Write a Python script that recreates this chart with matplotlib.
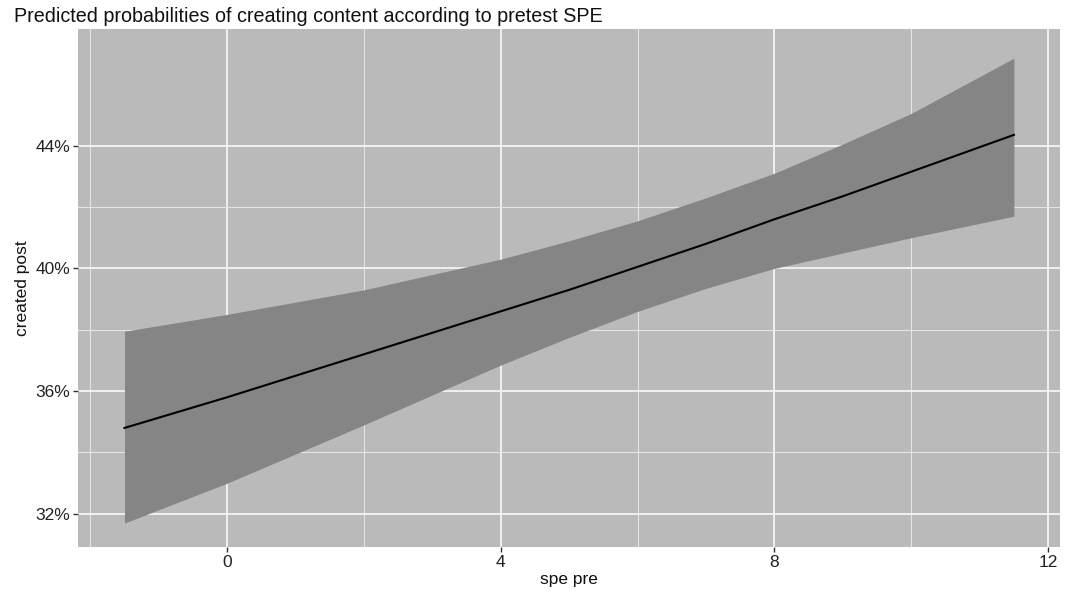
import matplotlib
matplotlib.use('Agg')
import matplotlib.pyplot as plt
from matplotlib.ticker import FuncFormatter

# predicted probability (%) of creating a post by pretest SPE, with CI band
spe_pre = [-1.5, 0, 2, 4, 5, 6, 7, 8, 9, 10, 11.5]
predicted = [34.8, 35.8, 37.2, 38.6, 39.3, 40.05, 40.8, 41.6, 42.35, 43.15, 44.35]
conf_low = [31.7, 33.0, 34.9, 36.85, 37.75, 38.6, 39.35, 40.0, 40.5, 41.0, 41.7]
conf_high = [37.95, 38.5, 39.3, 40.3, 40.9, 41.55, 42.3, 43.1, 44.05, 45.05, 46.85]

x_major = [0, 4, 8, 12]
x_minor = [-2, 2, 6, 10]
y_major = [32, 36, 40, 44]
y_minor = [34, 38, 42]

plt.rcParams['font.family'] = ['Liberation Sans', 'DejaVu Sans']

fig = plt.figure(figsize=(10.65, 5.92), dpi=100)
ax = fig.add_axes([0.0732, 0.076, 0.9225, 0.875])
ax.set_facecolor('#bababa')

for v in x_minor:
    ax.axvline(v, color='#e4e4e4', lw=0.8, zorder=0)
for v in x_major:
    ax.axvline(v, color='#f4f4f4', lw=1.3, zorder=0)
for v in y_minor:
    ax.axhline(v, color='#e4e4e4', lw=0.8, zorder=0)
for v in y_major:
    ax.axhline(v, color='#f4f4f4', lw=1.3, zorder=0)

ax.fill_between(spe_pre, conf_low, conf_high, color='#858585', lw=0, zorder=2)
ax.plot(spe_pre, predicted, color='black', lw=1.5, zorder=3)

ax.set_xlim(-2.18, 12.18)
ax.set_ylim(30.92, 47.8)
ax.set_xticks(x_major)
ax.set_yticks(y_major)
ax.yaxis.set_major_formatter(FuncFormatter(lambda v, p: '%d%%' % v))
ax.tick_params(length=3.5, width=1, color='#333333', labelcolor='#222222',
               labelsize=12.5, pad=2)
for s in ax.spines.values():
    s.set_visible(False)

ax.set_xlabel('spe pre', fontsize=12.5, color='#111111', labelpad=2)
ax.set_ylabel('created post', fontsize=12.5, color='#111111', labelpad=4)
fig.text(0.013, 0.972, 'Predicted probabilities of creating content according to pretest SPE',
         fontsize=14.2, color='#111111', ha='left', va='center')

plt.savefig('out.png', dpi=100)
